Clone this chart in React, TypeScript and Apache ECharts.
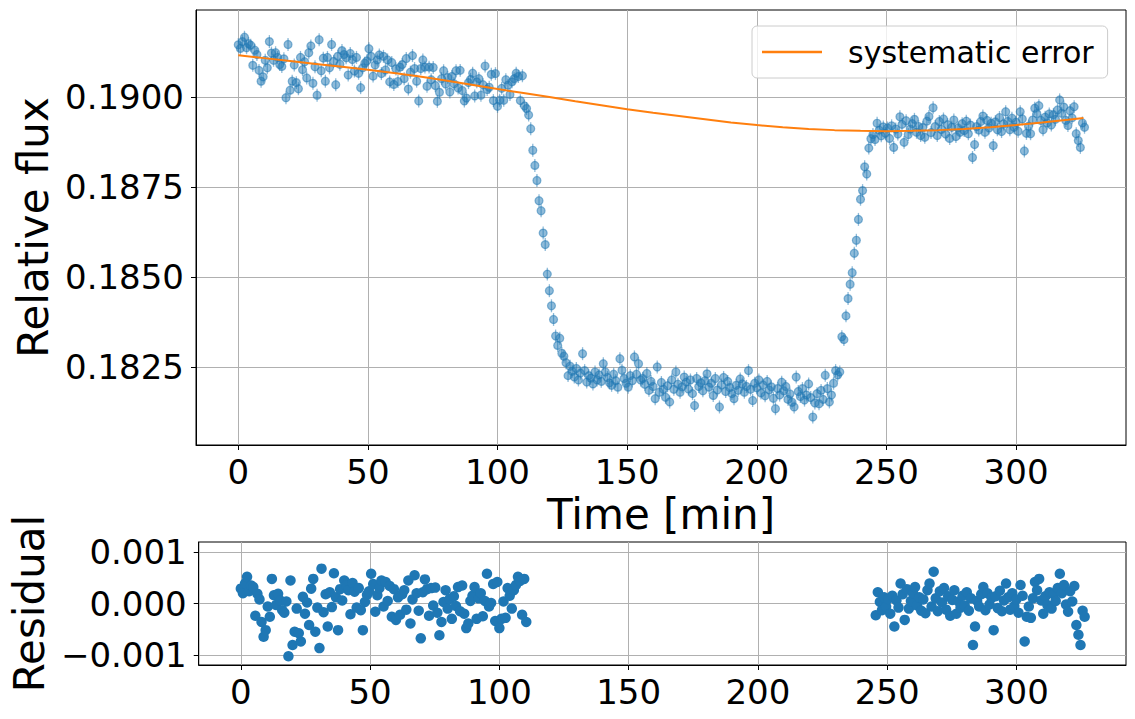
import { useEffect, useRef } from "react";
import * as echarts from "echarts";

const FONT = "DejaVu Sans";
const BLUE = "#1f77b4";
const ORANGE = "#ff7f0e";

// exposures are 0.8 min apart, starting at t = 0
const CADENCE = 0.8;
const FLUX_ERR = 0.00018;

const flux = [
  // 0 - 110 min, before ingress
  0.19145, 0.19135, 0.19154, 0.19166, 0.19137, 0.19148, 0.19144, 0.19088, 0.1913, 0.19118,
  0.19074, 0.19044, 0.19056, 0.19102, 0.19081, 0.19154, 0.19122, 0.19102, 0.19123, 0.1911,
  0.1909, 0.19085, 0.19106, 0.18998, 0.19146, 0.19019, 0.19044, 0.19089, 0.1904, 0.19023,
  0.1911, 0.19076, 0.19098, 0.19053, 0.19123, 0.19142, 0.19038, 0.19084, 0.19005, 0.19159,
  0.19073, 0.19108, 0.19044, 0.1911, 0.19081, 0.19146, 0.19099, 0.19034, 0.19113, 0.19091,
  0.19129, 0.19118, 0.19109, 0.19061, 0.19121, 0.19104, 0.19072, 0.1911, 0.19066, 0.19026,
  0.19081, 0.19094, 0.191, 0.19134, 0.19113, 0.19058, 0.19089, 0.19103, 0.19117, 0.19065,
  0.19113, 0.19075, 0.19103, 0.19042, 0.19096, 0.19035, 0.19078, 0.19043, 0.19083, 0.1909,
  0.19051, 0.19107, 0.19022, 0.19069, 0.19115, 0.19079, 0.19044, 0.18989, 0.19079, 0.19103,
  0.19083, 0.1903, 0.19083, 0.19048, 0.19082, 0.19032, 0.18988, 0.19013, 0.19051, 0.19073,
  0.19036, 0.19054, 0.19014, 0.19057, 0.19037, 0.19073, 0.19025, 0.19074, 0.19018, 0.18989,
  0.18997, 0.1904, 0.19049, 0.19066, 0.19003, 0.19042, 0.19051, 0.19005, 0.19034, 0.19086,
  0.19021, 0.19027, 0.19063, 0.1899, 0.19065, 0.18974, 0.18991, 0.19024, 0.18991, 0.19048,
  0.19033, 0.19007, 0.19042, 0.19051, 0.19066, 0.19057, 0.1899, 0.19059, 0.18975,
  // ingress
  0.18968, 0.1895, 0.18912, 0.18852, 0.1881, 0.18768, 0.18712, 0.18684, 0.18622, 0.1859,
  0.18508, 0.18462, 0.1842, 0.18382, 0.18336, 0.1831, 0.1833, 0.18288, 0.1828, 0.18262,
  0.18226, 0.18252,
  // in transit
  0.18238, 0.18222, 0.18246, 0.18214, 0.18233, 0.18287, 0.1824, 0.18208, 0.18226, 0.18219,
  0.18203, 0.18236, 0.18214, 0.18228, 0.1821, 0.18259, 0.18236, 0.18221, 0.18206, 0.18199,
  0.1823, 0.18212, 0.18194, 0.18273, 0.18241, 0.18218, 0.18205, 0.18194, 0.18226, 0.18212,
  0.18278, 0.1823, 0.18259, 0.18214, 0.18218, 0.18202, 0.18232, 0.18185, 0.1821, 0.18196,
  0.18162, 0.1825, 0.1818, 0.18207, 0.18188, 0.18166, 0.18198, 0.18153, 0.18214, 0.18188,
  0.18236, 0.18202, 0.1818, 0.18195, 0.18222, 0.18208, 0.18189, 0.18214, 0.18176, 0.18143,
  0.18218, 0.18196, 0.18206, 0.18184, 0.18212, 0.18231, 0.18194, 0.18205, 0.18171, 0.18218,
  0.18186, 0.18139, 0.182, 0.18221, 0.18182, 0.1821, 0.18193, 0.18176, 0.18162, 0.18199,
  0.18185, 0.18217, 0.18203, 0.1818, 0.18196, 0.1824, 0.18188, 0.18157, 0.18205, 0.18192,
  0.18214, 0.18178, 0.182, 0.1817, 0.1821, 0.18186, 0.18195, 0.18163, 0.18134, 0.1819,
  0.18172, 0.18208, 0.18184, 0.18196, 0.1816, 0.18175, 0.18152, 0.18139, 0.18222, 0.18182,
  0.18168, 0.1819, 0.18158, 0.18172, 0.18203, 0.18165, 0.18111, 0.1815, 0.18176, 0.18148,
  0.18185, 0.1816, 0.18227, 0.1819, 0.18153, 0.18172, 0.18205,
  // egress
  0.1824, 0.18228, 0.18236, 0.18334, 0.18326, 0.18392, 0.1844, 0.1848, 0.18512, 0.18566,
  0.18602, 0.1866, 0.18716, 0.1874, 0.18806, 0.18786, 0.18858, 0.18884, 0.18896,
  // after egress
  0.18882, 0.18927, 0.18908, 0.18892, 0.18917, 0.18899, 0.18914, 0.18885, 0.1892, 0.1886,
  0.18911, 0.18897, 0.18945, 0.18924, 0.18874, 0.18934, 0.18896, 0.18911, 0.18926, 0.18938,
  0.18902, 0.18918, 0.18893, 0.18915, 0.18888, 0.18933, 0.18946, 0.18901, 0.1897, 0.18918,
  0.18893, 0.18932, 0.1891, 0.18939, 0.18897, 0.18923, 0.18885, 0.18916, 0.18936, 0.1889,
  0.18914, 0.18902, 0.18926, 0.18907, 0.18933, 0.18898, 0.18922, 0.18832, 0.18868, 0.18918,
  0.18908, 0.18932, 0.18947, 0.18902, 0.18935, 0.18914, 0.18927, 0.18865, 0.18931, 0.18909,
  0.18943, 0.18904, 0.18925, 0.18959, 0.18932, 0.18909, 0.18941, 0.18916, 0.1893, 0.18905,
  0.18959, 0.18939, 0.1885, 0.18899, 0.18919, 0.18898, 0.18936, 0.18969, 0.18954, 0.18976,
  0.18935, 0.18909, 0.18944, 0.18928, 0.18953, 0.18922, 0.18951, 0.18938, 0.18964, 0.18992,
  0.18955, 0.18972, 0.18935, 0.18921, 0.18962, 0.18942, 0.18973, 0.18898, 0.18879, 0.1886,
  0.18928, 0.18916,
];

// residuals of the out-of-transit exposures 0..138
const residualEarly = [
  0.00029, 0.0002, 0.00039, 0.00052, 0.00024, 0.00035, 0.00032, -0.00024, 0.00019, 0.00008,
  -0.00036, -0.00065, -0.00052, -0.00006, -0.00026, 0.00048, 0.00016, -0.00003, 0.00019, 0.00006,
  -0.00013, -0.00018, 0.00004, -0.00103, 0.00045, -0.00081, -0.00055, -0.0001, -0.00058, -0.00074,
  0.00013, -0.0002, 0.00002, -0.00042, 0.00029, 0.00048, -0.00055, -0.00008, -0.00087, 0.00068,
  -0.00017, 0.00018, -0.00045, 0.00022, -0.00007, 0.00059, 0.00012, -0.00052, 0.00028, 0.00006,
  0.00045, 0.00035, 0.00026, -0.00021, 0.0004, 0.00023, -0.00008, 0.0003, -0.00013, -0.00052,
  0.00003, 0.00017, 0.00024, 0.00058, 0.00038, -0.00016, 0.00016, 0.0003, 0.00045, -0.00006,
  0.00042, 0.00005, 0.00034, -0.00026, 0.00028, -0.00032, 0.00012, -0.00022, 0.00018, 0.00026,
  -0.00012, 0.00045, -0.00039, 0.00008, 0.00055, 0.0002, -0.00014, -0.00068, 0.00022, 0.00047,
  0.00028, -0.00024, 0.0003, -0.00004, 0.00031, -0.00018, -0.00062, -0.00036, 0.00003, 0.00026,
  -0.0001, 0.00009, -0.0003, 0.00014, -0.00005, 0.00032, -0.00015, 0.00035, -0.0002, -0.00048,
  -0.00039, 0.00005, 0.00015, 0.00032, -0.0003, 0.0001, 0.0002, -0.00025, 0.00005, 0.00058,
  -0.00006, 0.00001, 0.00038, -0.00034, 0.00042, -0.00048, -0.0003, 0.00004, -0.00028, 0.0003,
  0.00015, -0.0001, 0.00026, 0.00036, 0.00052, 0.00044, -0.00022, 0.00048, -0.00036,
];

// residuals of the out-of-transit exposures 307..408
const LATE_START = 307;
const residualLate = [
  -0.00023, 0.00022, 0.00003, -0.00013, 0.00012, -0.00006, 0.00009, -0.0002, 0.00015, -0.00045,
  0.00006, -0.00008, 0.00039, 0.00018, -0.00032, 0.00028, -0.0001, 0.00005, 0.0002, 0.00032,
  -0.00004, 0.00012, -0.00014, 0.00008, -0.00019, 0.00026, 0.00039, -0.00006, 0.00062, 0.0001,
  -0.00015, 0.00024, 0.00002, 0.0003, -0.00012, 0.00014, -0.00024, 0.00007, 0.00026, -0.0002,
  0.00004, -0.00008, 0.00015, -0.00004, 0.00022, -0.00014, 0.0001, -0.00081, -0.00045, 0.00005,
  -0.00006, 0.00018, 0.00032, -0.00013, 0.0002, -0.00002, 0.00011, -0.00052, 0.00014, -0.00009,
  0.00025, -0.00015, 0.00006, 0.00039, 0.00012, -0.00012, 0.0002, -0.00005, 0.00008, -0.00018,
  0.00036, 0.00015, -0.00074, -0.00026, -0.00006, -0.00028, 0.0001, 0.00042, 0.00026, 0.00048,
  0.00006, -0.0002, 0.00014, -0.00003, 0.00022, -0.0001, 0.00018, 0.00005, 0.0003, 0.00058,
  0.0002, 0.00036, -0.00002, -0.00016, 0.00024, 0.00004, 0.00034, -0.00042, -0.00061, -0.00081,
  -0.00014, -0.00026,
];

// systematic-error model
const modelTimes = [
  0, 10, 20, 30, 40, 50, 60, 70, 80, 90, 100, 110, 120, 130, 140, 150, 160,
  170, 180, 190, 200, 210, 220, 230, 240, 250, 260, 270, 280, 290, 300, 310, 320, 326,
];
const modelFlux = [
  0.19116, 0.19108, 0.191, 0.19092, 0.19084, 0.19076, 0.19067, 0.19057, 0.19046, 0.19034,
  0.19022, 0.19011, 0.19, 0.18988, 0.18977, 0.18966, 0.18956, 0.18947, 0.18938, 0.18929,
  0.18922, 0.18916, 0.18911, 0.18908, 0.18906, 0.18905, 0.18906, 0.18908, 0.18911, 0.18916,
  0.18922, 0.18929, 0.18937, 0.18942,
];

const xTicks = [0, 50, 100, 150, 200, 250, 300];
const fluxTicks = [0.1825, 0.185, 0.1875, 0.19];
const residualTicks = [-0.001, 0, 0.001];

const labelStyle = { fontSize: 34, color: "#000", fontFamily: FONT };
const nameStyle = { fontSize: 42, color: "#000", fontFamily: FONT };

function axisParts(ticks: number[]) {
  return {
    axisLine: { show: true, onZero: false, lineStyle: { color: "#000", width: 1 } },
    axisTick: { show: true, length: 5, customValues: ticks, lineStyle: { color: "#000", width: 1 } },
    splitLine: { show: true, lineStyle: { color: "#b0b0b0", width: 1 } },
  };
}

export default function App() {
  const chartRef = useRef<HTMLDivElement>(null);

  useEffect(() => {
    if (!chartRef.current) return;
    const chart = echarts.init(chartRef.current, null, { renderer: "svg" });

    const fluxData = flux.map((f, i) => [i * CADENCE, f]);
    const residualData = [
      ...residualEarly.map((r, i) => [i * CADENCE, r]),
      ...residualLate.map((r, i) => [(LATE_START + i) * CADENCE, r]),
    ];
    const modelData = modelTimes.map((t, i) => [t, modelFlux[i]]);

    chart.setOption({
      animation: false,
      textStyle: { fontFamily: FONT },
      grid: [
        { left: 196, top: 10, right: 9, height: 435, show: true, borderColor: "#000", borderWidth: 1 },
        { left: 197, top: 542, right: 9, height: 123, show: true, borderColor: "#000", borderWidth: 1 },
      ],
      legend: {
        data: [{ name: "systematic error", icon: "rect" }],
        left: 752,
        top: 26,
        itemWidth: 60,
        itemHeight: 2.5,
        padding: [11, 14, 11, 10],
        borderColor: "#cccccc",
        borderWidth: 1,
        borderRadius: 5,
        backgroundColor: "rgba(255,255,255,0.8)",
        textStyle: { fontSize: 30, color: "#000", fontFamily: FONT, lineHeight: 30, padding: [0, 0, 0, 21] },
      },
      xAxis: [
        {
          type: "value",
          gridIndex: 0,
          min: -16.3,
          max: 342.4,
          ...axisParts(xTicks),
          axisLabel: { ...labelStyle, customValues: xTicks, margin: 10 },
          name: "Time [min]",
          nameLocation: "middle",
          nameGap: 45,
          nameTextStyle: nameStyle,
        },
        {
          type: "value",
          gridIndex: 1,
          min: -16.3,
          max: 342.4,
          ...axisParts(xTicks),
          axisLabel: { ...labelStyle, customValues: xTicks, margin: 10 },
        },
      ],
      yAxis: [
        {
          type: "value",
          gridIndex: 0,
          min: 0.180333,
          max: 0.192417,
          ...axisParts(fluxTicks),
          axisLabel: {
            ...labelStyle,
            customValues: fluxTicks,
            margin: 12,
            formatter: (v: number) => v.toFixed(4),
          },
          name: "Relative flux",
          nameLocation: "middle",
          nameGap: 108,
          nameTextStyle: nameStyle,
        },
        {
          type: "value",
          gridIndex: 1,
          min: -0.0012,
          max: 0.0012,
          ...axisParts(residualTicks),
          axisLabel: {
            ...labelStyle,
            customValues: residualTicks,
            margin: 12,
            formatter: (v: number) =>
              v < -1e-9 ? "\u2212" + Math.abs(v).toFixed(3) : Math.abs(v).toFixed(3),
          },
          name: "Residual",
          nameLocation: "middle",
          nameGap: 141,
          nameTextStyle: { ...nameStyle, padding: [0, 0, 0, 0] },
        },
      ],
      series: [
        {
          type: "custom",
          xAxisIndex: 0,
          yAxisIndex: 0,
          data: fluxData,
          encode: { x: 0, y: 1 },
          z: 2,
          renderItem: (_params: any, api: any) => {
            const t = api.value(0);
            const f = api.value(1);
            const c = api.coord([t, f]);
            const hi = api.coord([t, f + FLUX_ERR]);
            const lo = api.coord([t, f - FLUX_ERR]);
            return {
              type: "group",
              children: [
                {
                  type: "line",
                  shape: { x1: c[0], y1: hi[1], x2: c[0], y2: lo[1] },
                  style: { stroke: "rgba(31,119,180,0.5)", lineWidth: 1.3 },
                },
                {
                  type: "circle",
                  shape: { cx: c[0], cy: c[1], r: 4 },
                  style: { fill: "rgba(31,119,180,0.5)", stroke: "rgba(31,119,180,0.5)", lineWidth: 1.2 },
                },
              ],
            };
          },
        },
        {
          name: "systematic error",
          type: "line",
          xAxisIndex: 0,
          yAxisIndex: 0,
          data: modelData,
          showSymbol: false,
          smooth: false,
          z: 5,
          itemStyle: { color: ORANGE },
          lineStyle: { color: ORANGE, width: 2 },
        },
        {
          type: "scatter",
          xAxisIndex: 1,
          yAxisIndex: 1,
          data: residualData,
          symbolSize: 10.5,
          itemStyle: { color: BLUE, opacity: 1 },
        },
      ],
    });

    return () => chart.dispose();
  }, []);

  return (
    <div
      ref={chartRef}
      style={{ position: "absolute", left: 0, top: 0, width: 1135, height: 719 }}
    />
  );
}
